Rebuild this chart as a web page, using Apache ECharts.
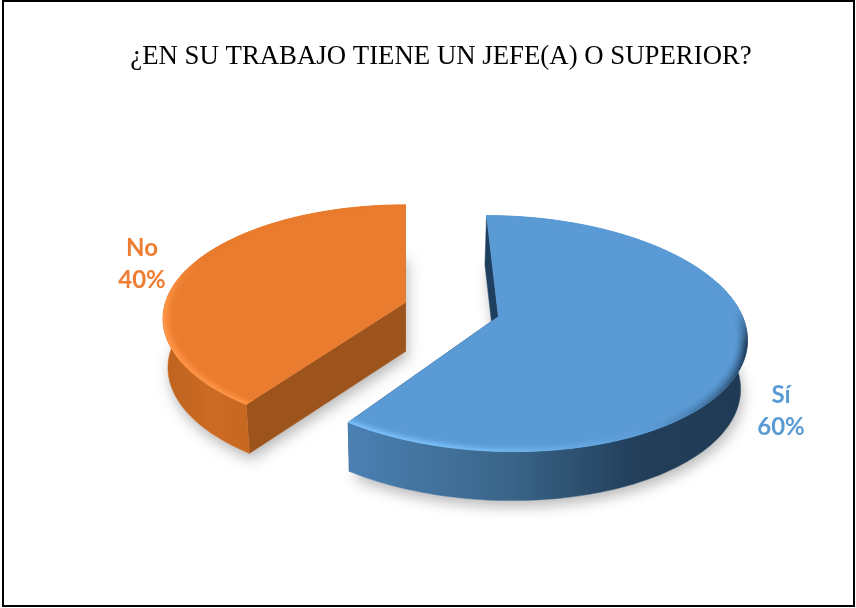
<!DOCTYPE html>
<html>
<head>
<meta charset="utf-8">
<style>html,body{margin:0;padding:0;background:#fff}#chart{width:856px;height:608px}</style>
<script src="https://cdn.jsdelivr.net/npm/echarts@6/dist/echarts.min.js"></script>
</head>
<body>
<div id="chart"></div>
<script>
const categories = ['Sí', 'No'];
const values = [60, 40];
const titleText = '¿EN SU TRABAJO TIENE UN JEFE(A) O SUPERIOR?';

// Perspective camera for the tilted pie
const view = { vanishX: 405, baseY: 309.5, scaleX: 242, scaleZ: 113.5, persp: 0.143, depth: 49, taper: 0.98 };
const pieCentreX = 0.192;   // pie centre, in radii, right of the vanishing line
const explode = 0.2;        // how far each slice is pulled from the centre, in radii
const wallBackLimit = 0.3;  // the outer wall is hidden behind the top face past this depth

const looks = [
  { top: [91, 155, 213], cut: '#1F3F5F', text: '#5B9BD5', lit: [122, 190, 248], dim: [30, 56, 84],
    wall: [[0, '#4B80B2'], [0.4, '#3A6589'], [0.72, '#223F5B'], [1, '#1F3A54']], wallFrom: 352, wallTo: 745,
    label: [781, 411] },
  { top: [234, 124, 47], cut: '#9C541C', text: '#ED7D31', lit: [255, 150, 72], dim: [170, 90, 34],
    wall: [[0, '#BE621E'], [0.5, '#CC6C24'], [1, '#C4661F']], wallFrom: 163, wallTo: 260,
    label: [142, 264] }
];

const total = values.reduce((a, b) => a + b, 0);

function project(X, Z) {
  const w = 1 - view.persp * Z;
  return [view.vanishX + view.scaleX * X / w, view.baseY + view.scaleZ * Z / w];
}
function drop(p) {
  return [view.vanishX + (p[0] - view.vanishX) * view.taper, p[1] + view.depth];
}
function arc(ax, az, r, a0, a1) {
  const pts = [];
  const n = Math.max(2, Math.ceil((a1 - a0) / 0.02));
  for (let i = 0; i <= n; i++) {
    const t = a0 + (a1 - a0) * i / n;
    pts.push(project(ax + r * Math.sin(t), az - r * Math.cos(t)));
  }
  return pts;
}
function poly(points, style) {
  return { type: 'polygon', shape: { points: points }, style: style, silent: true };
}
const rgb = c => 'rgb(' + c.join(',') + ')';
const mix = (a, b, t) => a.map((c, i) => Math.round(c + (b[i] - c) * t));

// Rim of the top face: light towards the front left, dark towards the right
function rimBands(ax, az, a0, a1, look) {
  const out = [];
  const steps = 9;
  const width = 0.045;
  const n = Math.ceil((a1 - a0) / 0.03);
  for (let k = steps - 1; k >= 0; k--) {
    const rOut = 1 - width * k / steps;
    const rIn = 1 - width * (k + 1) / steps;
    const falloff = Math.pow(1 - k / steps, 1.6);
    for (let i = 0; i < n; i++) {
      const t0 = a0 + (a1 - a0) * i / n;
      const t1 = a0 + (a1 - a0) * (i + 1) / n;
      const m = (t0 + t1) / 2;
      const u = Math.sin(m), v = -Math.cos(m);
      const light = -0.85 * u + 0.5 * v;
      const lit = light >= 0;
      const fade = lit
        ? Math.max(0, Math.min(1, (v + 0.45) / 0.5))
        : Math.max(0, Math.min(1, (v + 0.05) / 0.3));
      const strength = Math.min(1, Math.abs(light) * 1.4) * fade * falloff;
      const c = rgb(mix(look.top, lit ? look.lit : look.dim, strength));
      const outer = arc(ax, az, rOut, t0, t1);
      const inner = arc(ax, az, rIn, t0, t1).reverse();
      out.push(poly(outer.concat(inner), { fill: c, stroke: c, lineWidth: 0.6 }));
    }
  }
  return out;
}

function renderSlice(params, api) {
  const idx = params.dataIndex;
  const look = looks[idx];
  const val = api.value(0);
  let before = 0;
  for (let i = 0; i < idx; i++) before += values[i];
  const a0 = before / total * Math.PI * 2;
  const a1 = (before + val) / total * Math.PI * 2;
  const mid = (a0 + a1) / 2;
  const ax = pieCentreX + explode * Math.sin(mid);
  const az = -explode * Math.cos(mid);

  const apex = project(ax, az);
  const edge = arc(ax, az, 1, a0, a1);
  const face = [apex].concat(edge);
  const under = face.map(drop);
  const first = edge[0], last = edge[edge.length - 1];

  // only the part of the outer wall that faces the viewer
  const backAngle = Math.acos(wallBackLimit);
  const wallEdge = arc(ax, az, 1, Math.max(a0, backAngle), Math.min(a1, Math.PI * 2 - backAngle));

  const wallFill = new echarts.graphic.LinearGradient(look.wallFrom, 0, look.wallTo, 0,
    look.wall.map(s => ({ offset: s[0], color: s[1] })), true);
  const topColor = rgb(look.top);

  const children = [];
  // soft ground shadow
  children.push(poly(under, {
    fill: '#fff', shadowColor: 'rgba(0,0,0,0.28)', shadowBlur: 14, shadowOffsetX: 2, shadowOffsetY: 6
  }));
  // radial cut walls
  children.push(poly([apex, first, drop(first), drop(apex)], { fill: look.cut, stroke: look.cut, lineWidth: 0.5 }));
  children.push(poly([apex, last, drop(last), drop(apex)], { fill: look.cut, stroke: look.cut, lineWidth: 0.5 }));
  // outer wall
  children.push(poly(wallEdge.concat(wallEdge.map(drop).reverse()), { fill: wallFill, stroke: wallFill, lineWidth: 0.5 }));
  // top face
  children.push(poly(face, { fill: topColor, stroke: topColor, lineWidth: 0.5 }));
  rimBands(ax, az, a0, a1, look).forEach(b => children.push(b));

  const pct = Math.round(val / total * 100) + '%';
  children.push({
    type: 'text',
    silent: true,
    style: {
      x: look.label[0], y: look.label[1],
      text: categories[idx] + '\n' + pct,
      fill: look.text, font: 'bold 24px Lato',
      lineHeight: 32, align: 'center', verticalAlign: 'middle'
    }
  });
  return { type: 'group', children: children };
}

const chart = echarts.init(document.getElementById('chart'), null, { renderer: 'canvas' });
chart.setOption({
  animation: false,
  backgroundColor: '#ffffff',
  title: {
    text: titleText,
    left: 436, top: 38, textAlign: 'center',
    textStyle: { fontFamily: 'Liberation Serif', fontSize: 26.8, fontWeight: 'normal', color: '#000' }
  },
  graphic: [{
    type: 'rect', silent: true,
    shape: { x: 3, y: 1, width: 851, height: 605 },
    style: { fill: 'none', stroke: '#000', lineWidth: 2 }
  }],
  series: [{
    type: 'custom',
    coordinateSystem: 'none',
    renderItem: renderSlice,
    data: values.map((v, i) => ({ name: categories[i], value: [v] }))
  }]
});
</script>
</body>
</html>
